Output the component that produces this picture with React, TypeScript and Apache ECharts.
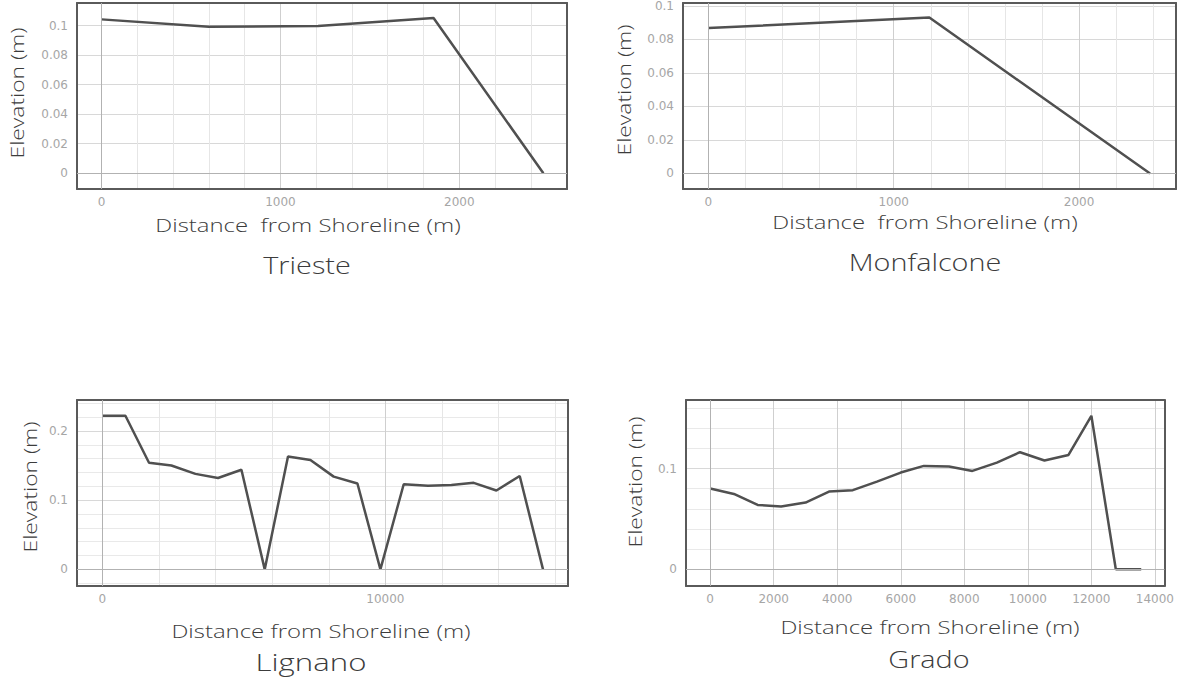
import React, { useEffect, useRef } from "react";
import * as echarts from "echarts";

// ---- data (distance from shoreline in m, elevation in m) ----
const triesteX = [0, 600, 1210, 1856, 2470];
const triesteY = [0.1043, 0.0993, 0.0998, 0.1052, 0];

const monfalconeX = [0, 1192, 2383];
const monfalconeY = [0.0868, 0.0931, 0];

const lignanoX = [0, 813, 1647, 2438, 3286, 4085, 4912, 5735, 6558, 7350, 8173, 9011, 9823, 10647, 11506, 12332, 13120, 13922, 14746, 15569];
const lignanoY = [0.222, 0.222, 0.154, 0.15, 0.138, 0.132, 0.144, 0, 0.163, 0.158, 0.134, 0.124, 0, 0.123, 0.121, 0.122, 0.125, 0.114, 0.135, 0];

const gradoX = [0, 748, 1495, 2234, 3003, 3742, 4492, 5250, 6000, 6727, 7517, 8255, 9025, 9754, 10523, 11280, 12000, 12769, 13569];
const gradoY = [0.0801, 0.0748, 0.0639, 0.0622, 0.0662, 0.0771, 0.0785, 0.087, 0.096, 0.1026, 0.102, 0.0976, 0.1059, 0.1162, 0.1079, 0.1135, 0.1523, 0, 0];

const titles = ["Trieste", "Monfalcone", "Lignano", "Grado"];
const xNames = ["Distance  from Shoreline (m)", "Distance  from Shoreline (m)", "Distance from Shoreline (m)", "Distance from Shoreline (m)"];
const yName = "Elevation (m)";

const panels = [
  { x: triesteX, y: triesteY, grid: { left: 77, top: 3, width: 490, height: 186 }, xMin: -137, xMax: 2602, yMin: -0.0107, yMax: 0.1154, xInt: 1000, xMinor: 5, yInt: 0.02, yMinor: 0,
    yName: [17, 93], xName: [308, 225], title: [307, 265], titleScale: 1.2 },
  { x: monfalconeX, y: monfalconeY, grid: { left: 683, top: 3, width: 493, height: 186 }, xMin: -137, xMax: 2523, yMin: -0.0093, yMax: 0.1018, xInt: 1000, xMinor: 5, yInt: 0.02, yMinor: 0,
    yName: [624, 90], xName: [925, 222], title: [925, 262], titleScale: 1.2 },
  { x: lignanoX, y: lignanoY, grid: { left: 77, top: 400, width: 491, height: 186 }, xMin: -898, xMax: 16452, yMin: -0.024, yMax: 0.2447, xInt: 10000, xMinor: 5, yInt: 0.1, yMinor: 5,
    yName: [30, 487], xName: [321, 631], title: [311, 662], titleScale: 1.3 },
  { x: gradoX, y: gradoY, grid: { left: 686, top: 400, width: 489, height: 186 }, xMin: -760, xMax: 14300, yMin: -0.0166, yMax: 0.168, xInt: 2000, xMinor: 0, yInt: 0.1, yMinor: 5,
    yName: [635, 482], xName: [930, 627], title: [929, 659], titleScale: 1.2 },
];

const BORDER = { color: "#5a5a5a", width: 2 };
const fmt = (v: number) => String(Number(v.toFixed(6)));
const LABEL = { color: "#a6a6a6", fontFamily: "DejaVu Sans", fontSize: 12, formatter: fmt };
const NAME_FONT = "'Open Sans', sans-serif";

export default function App() {
  const ref = useRef<HTMLDivElement>(null);
  useEffect(() => {
    if (!ref.current) return;
    const chart = echarts.init(ref.current, undefined, { renderer: "svg" });
    const grid: any[] = [];
    const xAxis: any[] = [];
    const yAxis: any[] = [];
    const series: any[] = [];
    const graphic: any[] = [];
    panels.forEach((p, i) => {
      grid.push({ ...p.grid, show: false, containLabel: false });
      xAxis.push({
        type: "value", gridIndex: i, min: p.xMin, max: p.xMax, minInterval: p.xInt, maxInterval: p.xInt,
        position: "bottom",
        axisLine: { show: true, onZero: false, lineStyle: BORDER },
        axisTick: { show: false },
        axisLabel: { ...LABEL, margin: 7, showMinLabel: false, showMaxLabel: false },
        splitLine: { show: true, lineStyle: { color: "#cfcfcf", width: 1 } },
        minorTick: { show: false, splitNumber: p.xMinor || 5 },
        minorSplitLine: { show: p.xMinor > 0, lineStyle: { color: "#e6e6e6", width: 1 } },
      });
      xAxis.push({
        type: "value", gridIndex: i, min: p.xMin, max: p.xMax, position: "top",
        axisLine: { show: true, onZero: false, lineStyle: BORDER },
        axisTick: { show: false }, axisLabel: { show: false }, splitLine: { show: false },
      });
      yAxis.push({
        type: "value", gridIndex: i, min: p.yMin, max: p.yMax, minInterval: p.yInt, maxInterval: p.yInt,
        position: "left",
        axisLine: { show: true, onZero: false, lineStyle: BORDER },
        axisTick: { show: false },
        axisLabel: { ...LABEL, margin: 9, showMinLabel: false, showMaxLabel: false },
        splitLine: { show: true, lineStyle: { color: "#d8d8d8", width: 1 } },
        minorTick: { show: false, splitNumber: p.yMinor || 5 },
        minorSplitLine: { show: p.yMinor > 0, lineStyle: { color: "#e9e9e9", width: 1 } },
      });
      yAxis.push({
        type: "value", gridIndex: i, min: p.yMin, max: p.yMax, position: "right",
        axisLine: { show: true, onZero: false, lineStyle: BORDER },
        axisTick: { show: false }, axisLabel: { show: false }, splitLine: { show: false },
      });
      series.push({
        type: "line", xAxisIndex: 2 * i, yAxisIndex: 2 * i,
        data: p.x.map((v, k) => [v, p.y[k]]),
        symbol: "none", smooth: false,
        lineStyle: { color: "#505050", width: 2.5 },
        markLine: {
          silent: true, symbol: "none", label: { show: false },
          lineStyle: { color: "#b2b2b2", width: 1, type: "solid" },
          data: [{ yAxis: 0 }, { xAxis: 0 }],
        },
      });
      graphic.push({
        type: "text", x: p.yName[0], y: p.yName[1], rotation: Math.PI / 2, scaleX: 1.2,
        style: { text: yName, fontFamily: NAME_FONT, fontSize: 19, fontWeight: 300, fill: "#3c3c3c", align: "center", verticalAlign: "middle" },
      });
      graphic.push({
        type: "text", x: p.xName[0], y: p.xName[1], scaleX: 1.26,
        style: { text: xNames[i], fontFamily: NAME_FONT, fontSize: 19, fontWeight: 300, fill: "#3c3c3c", align: "center", verticalAlign: "middle" },
      });
      graphic.push({
        type: "text", x: p.title[0], y: p.title[1], scaleX: p.titleScale,
        style: { text: titles[i], fontFamily: NAME_FONT, fontSize: 24, fontWeight: 300, fill: "#3c3c3c", align: "center", verticalAlign: "middle" },
      });
    });
    chart.setOption({
      animation: false,
      backgroundColor: "#ffffff",
      grid, xAxis, yAxis, series, graphic,
    });
    return () => chart.dispose();
  }, []);
  return <div ref={ref} style={{ position: "absolute", left: 0, top: 0, width: 1177, height: 681 }} />;
}
